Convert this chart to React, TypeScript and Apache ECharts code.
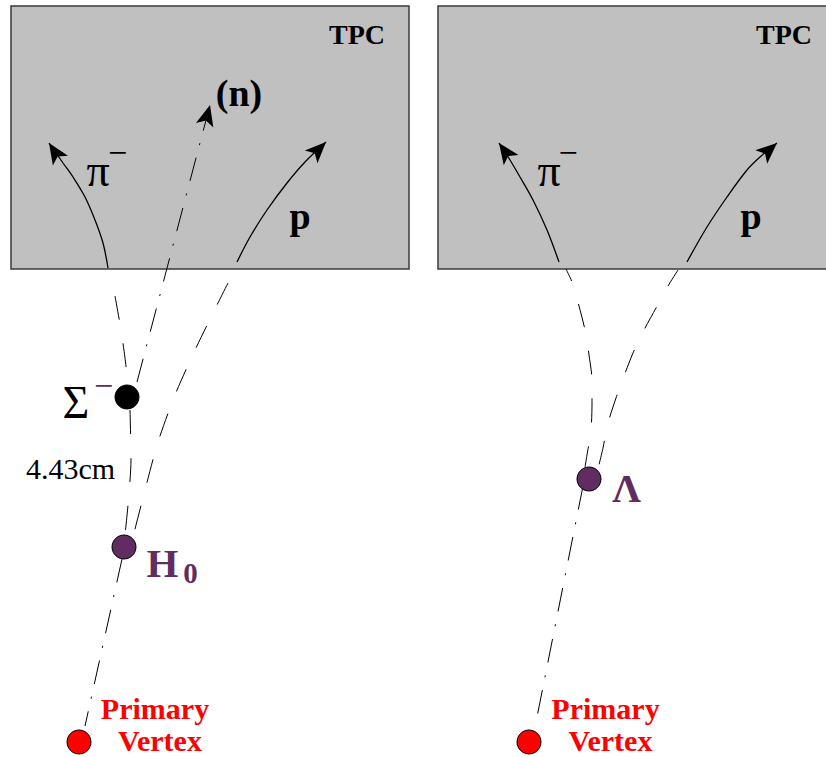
import React, { useEffect, useRef } from "react";
import * as echarts from "echarts";

// ---- data (diagram coordinates, y grows downward) ----
const tpcBoxes = [
  [11, 6, 409, 269],
  [438, 6, 840, 269],
];

// solid tracks inside the TPC (end at arrow tip)
const leftPiSolid = [[108, 268], [103, 243], [95, 220], [85, 197], [73, 177], [63, 163], [49, 143]];
const leftPSolid = [[237, 262], [250, 237], [267, 210], [287, 183], [305, 162], [326, 142]];
const rightPiSolid = [[559, 262], [547, 230], [533, 200], [520, 177], [510, 160], [499, 143]];
const rightPSolid = [[687, 262], [707, 227], [727, 197], [747, 170], [760, 157], [777, 143]];

// dashed extrapolations outside the TPC
const leftPiDashed = [[115, 296], [121, 330], [125, 358], [128, 384]];
const leftPDashed = [[228, 283], [217, 305], [195, 350], [175, 395], [158, 442], [145, 490], [133, 537]];
const sigmaToH0 = [[130, 410], [131, 460], [128, 505], [125, 535]];
const rightPiDashed = [[566, 269], [572, 282], [579, 306], [585, 330], [589, 355], [592, 380], [592, 404], [591, 430], [587, 455], [585, 467]];
const rightPDashed = [[678, 270], [668, 286], [656, 308], [644, 330], [633, 353], [624, 376], [616, 398], [608, 423], [603, 448], [597, 473]];

// dash-dot (neutral) lines
const neutronLine = [[137, 382], [210, 105]];
const h0ToPrimary = [[122, 559], [85, 726]];
const lambdaToPrimary = [[583, 486], [537, 717]];

// arrowheads: tipX, tipY, shaftX, shaftY
const arrowHeads = [
  [49, 143, 60, 160],
  [326, 142, 310, 158],
  [210, 105, 137, 382],
  [499, 143, 511, 160],
  [777, 143, 760, 158],
];

// vertices
const sigmaVertex = [[127, 397]];
const neutralVertices = [[124, 547], [589, 479]];
const primaryVertices = [[79, 742], [529, 742]];

const PURPLE = "#5f2d62";
const SERIF = '"Liberation Serif", "Times New Roman", serif';

function dashed(data: number[][], offset = 0) {
  return {
    type: "line",
    data,
    symbol: "none",
    smooth: 0.25,
    silent: true,
    z: 3,
    lineStyle: { color: "#000", width: 1, type: [24, 24], dashOffset: offset },
  };
}
function dashDot(data: number[][]) {
  return {
    type: "line",
    data,
    symbol: "none",
    silent: true,
    z: 3,
    lineStyle: { color: "#000", width: 1, type: [24, 13, 2, 13] },
  };
}
function solid(data: number[][]) {
  return {
    type: "line",
    data,
    symbol: "none",
    smooth: 0.35,
    silent: true,
    z: 3,
    lineStyle: { color: "#000", width: 1.3, type: "solid" },
  };
}

function txt(text: string, x: number, y: number, size: number, opts: any = {}) {
  return {
    type: "text",
    x,
    y,
    z: 10,
    style: {
      text,
      font: `${opts.bold ? "bold " : ""}${size}px ${SERIF}`,
      fill: opts.color || "#000",
      align: "center",
      verticalAlign: "middle",
    },
  };
}

export default function App() {
  const ref = useRef<HTMLDivElement>(null);
  useEffect(() => {
    if (!ref.current) return;
    const chart = echarts.init(ref.current, undefined, { renderer: "svg" });
    chart.setOption({
      animation: false,
      grid: { left: 0, right: 0, top: 0, bottom: 0 },
      xAxis: { type: "value", min: 0, max: 826, show: false },
      yAxis: { type: "value", min: 0, max: 757, inverse: true, show: false },
      series: [
        {
          type: "custom",
          data: tpcBoxes,
          silent: true,
          z: 1,
          renderItem: (params: any, api: any) => {
            const a = api.coord([api.value(0), api.value(1)]);
            const b = api.coord([api.value(2), api.value(3)]);
            return {
              type: "rect",
              shape: {
                x: Math.min(a[0], b[0]),
                y: Math.min(a[1], b[1]),
                width: Math.abs(b[0] - a[0]),
                height: Math.abs(b[1] - a[1]),
              },
              style: { fill: "#c0c0c0", stroke: "#3a3a3a", lineWidth: 1.5 },
            };
          },
        },
        solid(leftPiSolid),
        solid(leftPSolid),
        solid(rightPiSolid),
        solid(rightPSolid),
        dashed(leftPiDashed),
        dashed(leftPDashed),
        dashed(sigmaToH0),
        dashed(rightPiDashed, 11),
        dashed(rightPDashed, 5),
        dashDot(neutronLine),
        dashDot(h0ToPrimary),
        dashDot(lambdaToPrimary),
        {
          type: "custom",
          data: arrowHeads,
          silent: true,
          z: 5,
          renderItem: (params: any, api: any) => {
            const t = api.coord([api.value(0), api.value(1)]);
            const f = api.coord([api.value(2), api.value(3)]);
            let dx = t[0] - f[0];
            let dy = t[1] - f[1];
            const len = Math.hypot(dx, dy) || 1;
            dx /= len;
            dy /= len;
            const nx = -dy;
            const ny = dx;
            const L = 21;
            const W = 9;
            const N = 5;
            const bx = t[0] - dx * L;
            const by = t[1] - dy * L;
            return {
              type: "polygon",
              shape: {
                points: [
                  [t[0], t[1]],
                  [bx + nx * W, by + ny * W],
                  [t[0] - dx * (L - N), t[1] - dy * (L - N)],
                  [bx - nx * W, by - ny * W],
                ],
              },
              style: { fill: "#000" },
            };
          },
        },
        {
          type: "scatter",
          data: sigmaVertex,
          symbol: "circle",
          symbolSize: 24,
          silent: true,
          z: 6,
          itemStyle: { color: "#000", borderColor: "#000", borderWidth: 1, opacity: 1 },
        },
        {
          type: "scatter",
          data: neutralVertices,
          symbol: "circle",
          symbolSize: 24,
          silent: true,
          z: 6,
          itemStyle: { color: PURPLE, borderColor: "#000", borderWidth: 1, opacity: 1 },
        },
        {
          type: "scatter",
          data: primaryVertices,
          symbol: "circle",
          symbolSize: 24,
          silent: true,
          z: 6,
          itemStyle: { color: "#ff0000", borderColor: "#000", borderWidth: 1, opacity: 1 },
        },
      ],
      graphic: [
        txt("TPC", 357, 34.5, 28, { bold: true }),
        txt("TPC", 784, 34.5, 28, { bold: true }),
        txt("(n)", 239, 93, 38, { bold: true }),
        txt("π", 98, 170.5, 46),
        txt("−", 117.5, 152, 34),
        txt("p", 300, 216, 38, { bold: true }),
        txt("π", 549, 170.5, 46),
        txt("−", 568, 152, 34),
        txt("p", 751, 216, 38, { bold: true }),
        txt("Σ", 76, 402.5, 46),
        txt("−", 103.5, 385, 34, { color: PURPLE }),
        txt("4.43cm", 70.5, 468, 30),
        txt("H", 162.5, 563, 41, { bold: true, color: PURPLE }),
        txt("0", 190.5, 573, 29, { bold: true, color: PURPLE }),
        txt("Λ", 626.5, 488, 40, { bold: true, color: PURPLE }),
        txt("Primary", 155, 708, 30, { bold: true, color: "#ff0000" }),
        txt("Vertex", 160, 740, 30, { bold: true, color: "#ff0000" }),
        txt("Primary", 605.5, 708, 30, { bold: true, color: "#ff0000" }),
        txt("Vertex", 610.5, 740, 30, { bold: true, color: "#ff0000" }),
      ],
    });
    return () => chart.dispose();
  }, []);
  return (
    <div
      ref={ref}
      style={{ position: "fixed", left: 0, top: 0, width: 826, height: 757, background: "#fff" }}
    />
  );
}
